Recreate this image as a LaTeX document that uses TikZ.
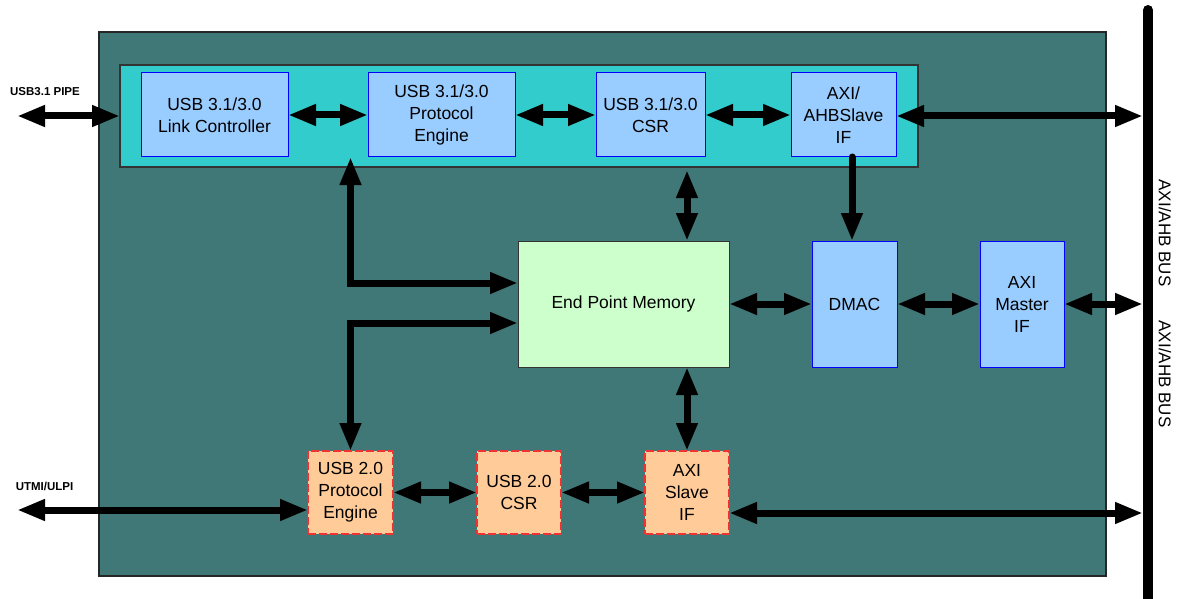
\documentclass[tikz,border=0pt]{standalone}
\usepackage{fontspec}
\setmainfont{Liberation Sans}
\usetikzlibrary{arrows.meta}
\definecolor{outerteal}{RGB}{64,120,120}
\definecolor{cyanbg}{RGB}{51,204,204}
\definecolor{bluebox}{RGB}{153,204,255}
\definecolor{blueedge}{RGB}{0,0,255}
\definecolor{greenbox}{RGB}{204,255,204}
\definecolor{orangebox}{RGB}{255,204,153}
\definecolor{rededge}{RGB}{240,50,50}
\tikzset{
  base/.style={rectangle, outer sep=0pt, inner sep=2pt, align=center,
    font=\fontsize{17.5}{22}\selectfont, text=black},
  bluebx/.style={base, fill=bluebox, draw=blueedge, line width=1pt},
  greenbx/.style={base, fill=greenbox, draw=black!80, line width=1pt},
  orangebx/.style={base, fill=orangebox, draw=rededge, line width=1.2pt,
    dash pattern=on 8pt off 3pt},
  arr/.style={line width=7pt, line cap=round, -{Triangle[length=28pt,width=20pt]}},
  darr/.style={line width=7pt, {Triangle[length=28pt,width=20pt]}-{Triangle[length=28pt,width=20pt]}},
  lbl/.style={font=\bfseries\fontsize{11.5}{13}\selectfont, text=black},
  buslbl/.style={font=\fontsize{17}{20}\selectfont, text=black, rotate=-90}
}
\begin{document}
\begin{tikzpicture}[x=1pt,y=-1pt]
\useasboundingbox (0,0) rectangle (1178,599);
% containers
\node[rectangle, outer sep=0pt, fill=outerteal, draw=black!85, line width=1.2pt,
  minimum width=1007pt, minimum height=544pt] (outer) at (602.5,304) {};
\node[rectangle, outer sep=0pt, fill=cyanbg, draw=black!80, line width=1.2pt,
  minimum width=798pt, minimum height=102pt] (cyan) at (519,116) {};
% bus
\coordinate (bustop) at (1148,10);
\coordinate (busbot) at (1148,610);
\draw[line width=10pt, line cap=round] (bustop) -- (busbot);
\node[buslbl] (bl1) at (1165,233) {AXI/AHB BUS};
\node[buslbl] (bl2) at (1165,374) {AXI/AHB BUS};
% top row
\node[bluebx, minimum width=147pt, minimum height=84pt] (link) at (214.5,115) {USB 3.1/3.0\\Link Controller};
\node[bluebx, minimum width=147pt, minimum height=84pt] (proto) at (441.5,115) {USB 3.1/3.0\\Protocol\\Engine};
\node[bluebx, minimum width=109pt, minimum height=84pt] (csr) at (650.5,115) {USB 3.1/3.0\\CSR};
\node[bluebx, minimum width=105pt, minimum height=84pt] (axis) at (843.5,115) {AXI/\\AHBSlave\\IF};
% middle row
\node[greenbx, minimum width=211pt, minimum height=126pt] (epm) at (623.5,304) {End Point Memory};
\node[bluebx, minimum width=85pt, minimum height=126pt] (dmac) at (854.5,304) {DMAC};
\node[bluebx, minimum width=84pt, minimum height=126pt] (axim) at (1022,304) {AXI\\Master\\IF};
% bottom row
\node[orangebx, minimum width=85pt, minimum height=83pt] (p2) at (350.5,492.5) {USB 2.0\\Protocol\\Engine};
\node[orangebx, minimum width=84pt, minimum height=83pt] (c2) at (519,492.5) {USB 2.0\\CSR};
\node[orangebx, minimum width=84pt, minimum height=83pt] (as2) at (687,492.5) {AXI\\Slave\\IF};
% external labels
\node[lbl] (pipelbl) at (45,92) {USB3.1 PIPE};
\node[lbl] (utmilbl) at (44.5,486) {UTMI/ULPI};
% coordinates
\coordinate (pipe) at (17,116);
\coordinate (utmi) at (17,510);
\coordinate (bus1) at (1143,116);
\coordinate (bus2) at (1143,304);
\coordinate (bus3) at (1143,513);
% top row connectors
\draw[darr] (pipe) -- (pipe -| cyan.west);
\draw[darr] (link.east) -- (proto.west);
\draw[darr] (proto.east) -- (csr.west);
\draw[darr] (csr.east) -- (axis.west);
\draw[darr] (bus1 -| axis.east) -- (bus1);
\draw[arr] ([xshift=-2.5pt]dmac.north |- axis.south) -- ([xshift=-2.5pt]dmac.north);
% to end point memory
\draw[darr] (p2.north |- proto.south) |- ([yshift=21pt]epm.west);
\draw[darr] (p2.north) |- ([yshift=-19pt]epm.west);
\draw[darr] ([yshift=-3pt]as2.north |- cyan.south) -- (as2.north |- epm.north);
\draw[darr] (as2.north |- epm.south) -- (as2.north);
% middle row connectors
\draw[darr] (epm.east) -- (dmac.west);
\draw[darr] (dmac.east) -- (axim.west);
\draw[darr] (axim.east) -- (bus2);
% bottom row connectors
\draw[darr] (utmi) -- (utmi -| p2.west);
\draw[darr] (p2.east) -- (c2.west);
\draw[darr] (c2.east) -- (as2.west);
\draw[darr] (bus3 -| as2.east) -- (bus3);
\end{tikzpicture}
\end{document}
